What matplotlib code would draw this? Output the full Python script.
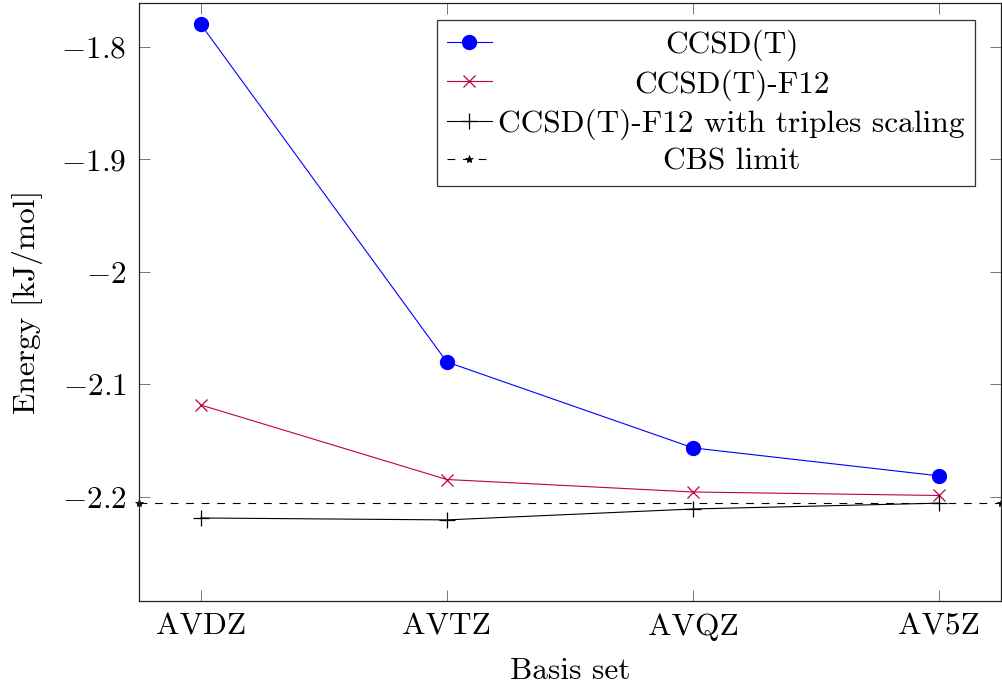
import matplotlib
matplotlib.use("Agg")
import matplotlib.pyplot as plt
from matplotlib.transforms import IdentityTransform

plt.rcParams['font.family'] = ['cmr10', 'DejaVu Serif']
plt.rcParams['mathtext.fontset'] = 'cm'
plt.rcParams['axes.formatter.use_mathtext'] = True

basis = ["AVDZ", "AVTZ", "AVQZ", "AV5Z"]
x_pos = [1, 2, 3, 4]
ccsdt = [-1.7796, -2.0800, -2.1564, -2.1813]
ccsdt_f12 = [-2.1182, -2.1845, -2.1956, -2.1987]
f12_scaled = [-2.2187, -2.2204, -2.2107, -2.2055]
cbs_limit = -2.2050
cbs_x = [0.75, 4.25]
yticks = [-1.8, -1.9, -2.0, -2.1, -2.2]
ytick_labels = [r"$-1.8$", r"$-1.9$", r"$-2$", r"$-2.1$", r"$-2.2$"]
labels = ["CCSD(T)", "CCSD(T)-F12", "CCSD(T)-F12 with triples scaling", "CBS limit"]

FS = 22.6
W, H = 1003, 688
fig = plt.figure(figsize=(W / 100, H / 100), dpi=100)
ax = fig.add_axes([139 / W, 1 - 601 / H, (1001 - 139) / W, (601 - 3) / H])

purple = (0.75, 0.0, 0.25)
lw = 0.8
h1, = ax.plot(x_pos, ccsdt, color='blue', lw=lw, marker='o', markersize=10,
              markerfacecolor='blue', markeredgecolor='blue', label=labels[0])
h2, = ax.plot(x_pos, ccsdt_f12, color=purple, lw=lw, marker='x', markersize=9,
              markeredgewidth=0.9, label=labels[1])
h3, = ax.plot(x_pos, f12_scaled, color='black', lw=lw, marker='+', markersize=12,
              markeredgewidth=0.9, label=labels[2])
h4, = ax.plot(cbs_x, [cbs_limit, cbs_limit], color='black', lw=0.8,
              linestyle=(0, (7, 7)), marker='*', markersize=6, markeredgewidth=0.5,
              clip_on=False, label=labels[3])

ax.set_xlim(0.75, 4.25)
ax.set_ylim(-2.2925, -1.7609)
ax.set_xticks(x_pos)
ax.set_xticklabels(basis, fontsize=FS)
ax.set_yticks(yticks)
ax.set_yticklabels(ytick_labels, fontsize=FS)
ax.tick_params(direction='in', length=8, width=0.7, color='#777777',
               top=True, right=True, pad=9)
ax.tick_params(axis='x', pad=9)
for s in ax.spines.values():
    s.set_linewidth(0.9)
    s.set_color('#222222')

ax.set_xlabel("Basis set", fontsize=FS, labelpad=12)
ax.set_ylabel("Energy [kJ/mol]", fontsize=FS, labelpad=13)

leg = ax.legend(handles=[h1, h2, h3, h4], loc='upper right',
                bbox_to_anchor=(0.970, 0.972), fontsize=FS, frameon=True,
                fancybox=False, framealpha=1.0, edgecolor='#333333',
                handlelength=1.45, handletextpad=0.2, labelspacing=0.25,
                borderpad=0.32, borderaxespad=0.0)
leg.get_frame().set_linewidth(0.9)

# center legend texts like pgfplots
fig.canvas.draw()
renderer = fig.canvas.get_renderer()
texts = leg.get_texts()
widths = [t.get_window_extent(renderer).width for t in texts]
wmax = max(widths)
for t in texts:
    ax_, ay_ = t.get_transform().transform(t.get_position())
    t.set_visible(False)
    fig.text(ax_ + wmax / 2, ay_, t.get_text(), transform=IdentityTransform(),
             ha='center', va='baseline', fontsize=FS)

fig.savefig("out.png", dpi=100)
